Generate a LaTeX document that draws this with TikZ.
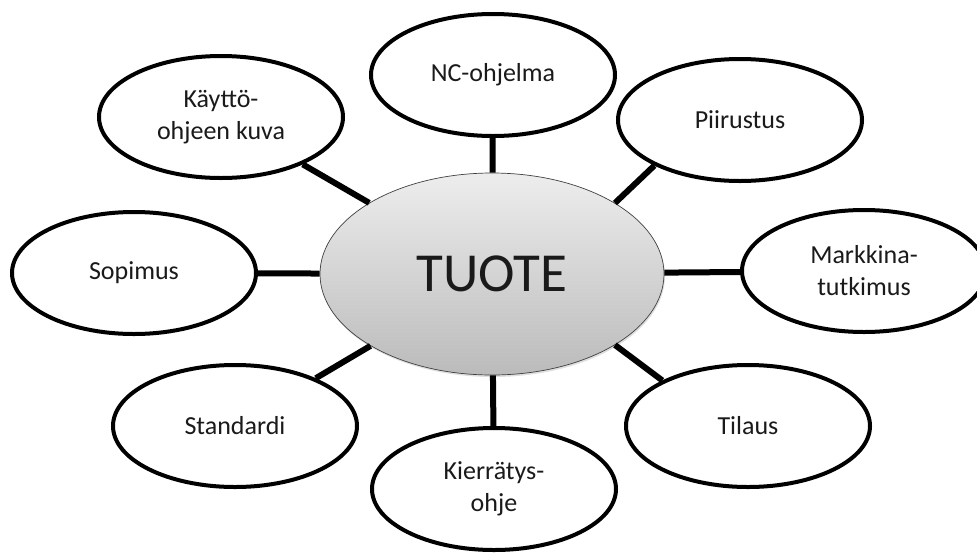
\documentclass[tikz,border=0pt]{standalone}
\usepackage{fontspec}
\setmainfont{Carlito}
\usepackage{xcolor}
\usepackage{tikz}
\usetikzlibrary{shapes.geometric,shadows}
\definecolor{ink}{HTML}{1A1A1A}
\definecolor{coretop}{HTML}{EDEDED}
\definecolor{corebot}{HTML}{BBBBBB}
\tikzset{
    every picture/.style={line cap=round,line join=round},
    leaf/.style={draw=black,ellipse,fill=white,line width=4pt,
      minimum width=244pt,minimum height=122pt,inner sep=0pt,
      text=ink,align=center,font=\fontsize{26}{32}\selectfont},
    core/.style={draw=black!75,ellipse,line width=0.7pt,
      top color=coretop,bottom color=corebot,
      minimum width=344pt,minimum height=202pt,inner sep=0pt,
      drop shadow={opacity=0.25,shadow xshift=1pt,shadow yshift=-2pt},
      text=ink,font=\fontsize{55}{60}\selectfont},
    spoke/.style={draw=black,line width=6pt,line cap=butt}
}

\begin{document}
\begin{tikzpicture}[x=1pt,y=-1pt]
  \useasboundingbox (0,0) rectangle (977,552);
  \node[core] (tuote) at (492,274) {TUOTE};

  \node[leaf] (nc) at (493,75) {NC-ohjelma};
  \node[leaf] (kaytto) at (221,117) {Käyttö-\\ohjeen kuva};
  \node[leaf] (piir) at (740,120) {Piirustus};
  \node[leaf] (markk) at (864,271) {Markkina-\\tutkimus};
  \node[leaf] (sopimus) at (134,273) {Sopimus};
  \node[leaf] (standardi) at (235,426) {Standardi};
  \node[leaf] (tilaus) at (748,426) {Tilaus};
  \node[leaf] (kierr) at (494,489) {Kierrätys-\\ohje};

  % spokes out of the core
  \foreach \n in {nc,kaytto,markk,sopimus,standardi,kierr}
    \draw[spoke] (tuote) -- (\n);
  \draw[spoke] (tuote.30) -- (piir.208);
  \draw[spoke] (tuote.-30) -- (tilaus.152);
\end{tikzpicture}
\end{document}
